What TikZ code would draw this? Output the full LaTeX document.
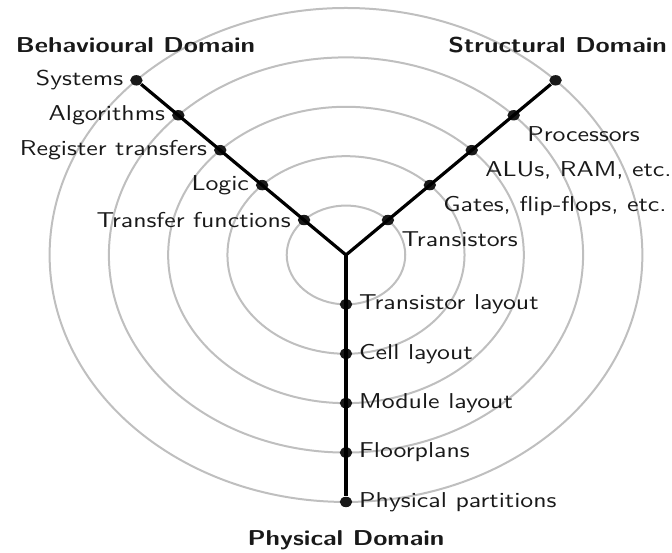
\documentclass[tikz,border=0pt]{standalone}
\usetikzlibrary{positioning}

\begin{document}
\begin{tikzpicture}[x=0.868cm, y=0.868cm, xscale=1.2, transform shape,
    font=\sffamily\fontsize{10.75}{12.9}\selectfont]
      \tikzset{
  ring/.style={draw=gray!50, line width=1pt},
  arm/.style={draw=black, line width=1.6pt},
  dot/.style={circle, fill=black!90, inner sep=0pt, minimum size=5.2pt},
  item/.style={text=black!90, inner sep=2.5pt},
  domainlbl/.style={font=\sffamily\bfseries\fontsize{10.75}{12.9}\selectfont, text=black!90},
}

\useasboundingbox (-5.837,-6.032) rectangle (5.500,5.162);

%% ---- RINGS ----
\foreach \r in {1,...,5}
  \draw[ring] (0,0) circle (\r);

%% ---- DOTS ----
\coordinate (o) at (0,0);
\foreach \k in {1,...,5} {
  \node[dot] (b\k) at (135:\k) {};
  \node[dot] (s\k) at (45:\k)  {};
  \node[dot] (p\k) at (0,-\k)  {};
}

%% ---- ARMS ----
\draw[arm] (b5) -- (o) -- (s5);
\draw[arm] (o) -- (p5);

%% ---- BEHAVIOURAL ----
\node[item, left=0pt of b5] (systems)    {Systems};
\node[item, left=0pt of b4] (algorithms) {Algorithms};
\node[item, left=0pt of b3] (regtrans)   {Register transfers};
\node[item, left=0pt of b2] (logic)      {Logic};
\node[item, left=0pt of b1] (transfer)   {Transfer functions};

%% ---- STRUCTURAL ----
\node[item, below right=1pt and 1pt of s4] (processors)  {Processors};
\node[item, below right=1pt and 1pt of s3] (alus)        {ALUs, RAM, etc.};
\node[item, below right=1pt and 1pt of s2] (gates)       {Gates, flip-flops, etc.};
\node[item, below right=1pt and 1pt of s1] (transistors) {Transistors};

%% ---- PHYSICAL ----
\node[item, right=0pt of p1] (trlayout)   {Transistor layout};
\node[item, right=0pt of p2] (cell)       {Cell layout};
\node[item, right=0pt of p3] (module)     {Module layout};
\node[item, right=0pt of p4] (floorplans) {Floorplans};
\node[item, right=0pt of p5] (partitions) {Physical partitions};

%% ---- DOMAINS ----
\node[domainlbl] (behav)  at (-3.55,4.25) {Behavioural Domain};
\node[domainlbl] (struct) at (3.57,4.25)  {Structural Domain};
\node[domainlbl] (phys)   at (0,-5.77)    {Physical Domain};

    \end{tikzpicture}
\end{document}
